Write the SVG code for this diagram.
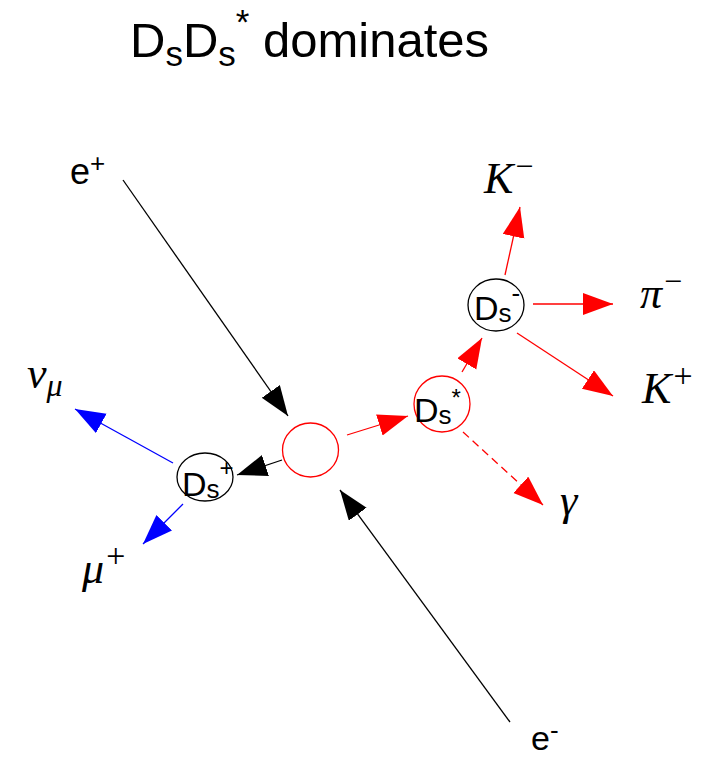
<svg xmlns="http://www.w3.org/2000/svg" width="712" height="759" viewBox="0 0 712 759">
<style>
.t{font-family:"Liberation Sans","DejaVu Sans",sans-serif;fill:#000}
.m{font-family:"Liberation Serif","DejaVu Serif",serif;font-style:italic;fill:#000}
.blk{stroke:#000;stroke-width:1.3;fill:none}
.red{stroke:#f00;stroke-width:1.3;fill:none}
.blu{stroke:#00f;stroke-width:1.3;fill:none}
</style>
<defs>
<marker id="ab" markerUnits="userSpaceOnUse" markerWidth="32" markerHeight="24" refX="30" refY="11" orient="auto"><path d="M0,0 L30,11 L0,22 Z" fill="#000"/></marker>
<marker id="ar" markerUnits="userSpaceOnUse" markerWidth="32" markerHeight="24" refX="30" refY="11" orient="auto"><path d="M0,0 L30,11 L0,22 Z" fill="#f00"/></marker>
<marker id="au" markerUnits="userSpaceOnUse" markerWidth="32" markerHeight="24" refX="30" refY="11" orient="auto"><path d="M0,0 L30,11 L0,22 Z" fill="#00f"/></marker>
</defs>
<g id="title"><text class="t" x="130" y="57" font-size="49">D<tspan font-size="35" dy="9">s</tspan><tspan dy="-9">D</tspan><tspan font-size="35" dy="9">s</tspan><tspan font-size="35" dy="-32">*</tspan><tspan dy="23"> dominates</tspan></text></g>
<g id="connectors">
<line class="blk" x1="123" y1="180" x2="288" y2="416" marker-end="url(#ab)"/>
<line class="blk" x1="510" y1="722" x2="340" y2="490" marker-end="url(#ab)"/>
<line class="blk" x1="282" y1="460" x2="237" y2="475" marker-end="url(#ab)"/>
<line class="blu" x1="173" y1="463" x2="75" y2="409" marker-end="url(#au)"/>
<line class="blu" x1="183" y1="504" x2="143" y2="544" marker-end="url(#au)"/>
<line class="red" x1="347" y1="435" x2="408" y2="416" marker-end="url(#ar)"/>
<line class="red" x1="463" y1="432" x2="543" y2="505" stroke-dasharray="8,5" marker-end="url(#ar)"/>
<line class="red" x1="462" y1="372" x2="482" y2="338" marker-end="url(#ar)"/>
<line class="red" x1="505" y1="275" x2="520" y2="207" marker-end="url(#ar)"/>
<line class="red" x1="533" y1="304" x2="613" y2="304" marker-end="url(#ar)"/>
<line class="red" x1="517" y1="333" x2="613" y2="396" marker-end="url(#ar)"/>
</g>
<g id="vertex"><ellipse class="red" cx="310.5" cy="450" rx="28" ry="27"/></g>
<g id="dsplus"><ellipse class="blk" cx="205" cy="477" rx="28" ry="24"/><text class="t" x="182" y="496" font-size="34">D<tspan font-size="26" dy="2">s</tspan><tspan font-size="24" dy="-22">+</tspan></text></g>
<g id="dsstar"><ellipse class="red" cx="442" cy="404" rx="28" ry="28"/><text class="t" x="414" y="422" font-size="34">D<tspan font-size="26" dy="2">s</tspan><tspan font-size="24" dy="-18">*</tspan></text></g>
<g id="dsminus"><ellipse class="blk" cx="496" cy="305" rx="28" ry="26"/><text class="t" x="474" y="320" font-size="34">D<tspan font-size="26" dy="2">s</tspan><tspan font-size="26" dy="-20">-</tspan></text></g>
<g id="eplus"><text class="t" x="70" y="184" font-size="36">e<tspan font-size="26" dy="-12">+</tspan></text></g>
<g id="eminus"><text class="t" x="531" y="750" font-size="34">e<tspan font-size="26" dy="-11">-</tspan></text></g>
<g id="kminus"><text class="m" x="484" y="193" font-size="44">K<tspan font-size="32" dy="-16">−</tspan></text></g>
<g id="piminus"><text class="m" x="640" y="308" font-size="44">π<tspan font-size="32" dy="-16">−</tspan></text></g>
<g id="kplus"><text class="m" x="642" y="403" font-size="44">K<tspan font-size="34" dy="-16">+</tspan></text></g>
<g id="gamma"><text class="m" x="560" y="515" font-size="44">γ</text></g>
<g id="numu"><text class="m" x="27" y="388" font-size="44">ν<tspan font-size="32" dy="8">μ</tspan></text></g>
<g id="muplus"><text class="m" x="82" y="583" font-size="44">μ<tspan font-size="34" dy="-16">+</tspan></text></g>
</svg>
